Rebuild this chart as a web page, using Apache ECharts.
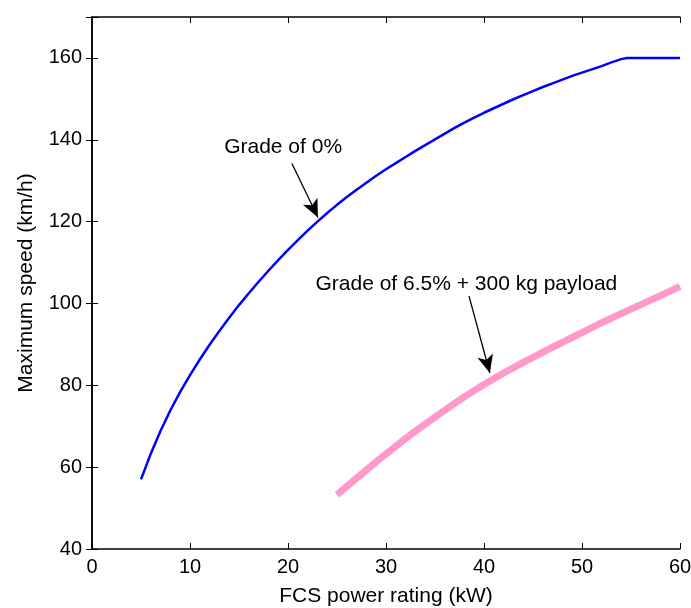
<!DOCTYPE html>
<html>
<head>
<meta charset="utf-8">
<script src="https://cdn.jsdelivr.net/npm/echarts@6/dist/echarts.min.js"></script>
<style>html,body{margin:0;padding:0;background:#fff}#c{width:691px;height:608px}</style>
</head>
<body>
<div id="c"></div>
<script>
const blueX = [5,6,7,8,9,10,11,12,13,14,15,16,17,18,19,20,21,22,23,24,25,26,27,28,29,30,31,32,33,34,35,36,37,38,39,40,41,42,43,44,45,46,47,48,49,50,51,52,53,54,54.6,55,56,57,58,59,60];
const blueY = [57,63.3,68.9,73.9,78.4,82.5,86.3,89.9,93.3,96.5,99.6,102.5,105.3,108,110.6,113.1,115.5,117.8,120,122.1,124.1,126,127.8,129.5,131.2,132.8,134.3,135.8,137.3,138.7,140.1,141.5,142.9,144.2,145.4,146.6,147.7,148.8,149.9,150.9,151.9,152.9,153.8,154.7,155.6,156.4,157.2,158,158.9,159.7,160,160,160,160,160,160,160];
const pinkX = [25,26,27,28,29,30,31,32,33,34,35,36,37,38,39,40,41,42,43,44,45,46,47,48,49,50,51,52,53,54,55,56,57,58,59,60];
const pinkY = [53.2,55.3,57.3,59.3,61.3,63.2,65.1,67,68.8,70.5,72.2,73.9,75.6,77.2,78.7,80.2,81.6,83,84.3,85.6,86.8,88.1,89.3,90.5,91.7,92.9,94.1,95.3,96.4,97.5,98.6,99.7,100.8,101.9,103,104.2];
const xTitle = 'FCS power rating (kW)';
const yTitle = 'Maximum speed (km/h)';
const note1 = 'Grade of 0%';
const note2 = 'Grade of 6.5% + 300 kg payload';
const note1Pos = [19.5, 138.2];
const note2Pos = [38.2, 104.6];
const arrow1 = [[20.4, 134.2], [23.06, 121.0]];
const arrow2 = [[38.47, 101.8], [40.6, 83.0]];

const FONT = 'Liberation Sans, Arial, sans-serif';
const chart = echarts.init(document.getElementById('c'));
const axLine = {show: true, lineStyle: {color: '#000', width: 1.5}};
const ticksIn = {show: true, inside: true, length: 6, lineStyle: {color: '#000', width: 1}};
function pairs(xs, ys){ return xs.map((x,i)=>[x, ys[i]]); }
chart.setOption({
  animation: false,
  textStyle: {fontFamily: FONT},
  grid: {left: 92, right: 11, top: 17, bottom: 59, containLabel: false, outerBoundsMode: 'none'},
  xAxis: [
    {type: 'value', min: 0, max: 60, interval: 10, position: 'bottom',
     name: xTitle, nameLocation: 'middle', nameGap: 37,
     nameTextStyle: {fontSize: 21, color: '#000', fontFamily: FONT},
     axisLine: axLine, axisTick: ticksIn, splitLine: {show: false},
     axisLabel: {fontSize: 20, color: '#000', margin: 8, fontFamily: FONT}},
    {type: 'value', min: 0, max: 60, interval: 10, position: 'top',
     axisLine: axLine, axisTick: ticksIn, splitLine: {show: false},
     axisLabel: {show: false}}
  ],
  yAxis: [
    {type: 'value', min: 40, max: 170, interval: 20, position: 'left',
     name: yTitle, nameLocation: 'middle', nameGap: 55, nameRotate: 90,
     nameTextStyle: {fontSize: 21, color: '#000', fontFamily: FONT},
     axisLine: axLine, axisTick: ticksIn, splitLine: {show: false},
     axisLabel: {fontSize: 20, color: '#000', margin: 10, fontFamily: FONT,
       formatter: v => (v % 20 === 0 && v <= 160) ? String(v) : ''}},
    {type: 'value', min: 40, max: 170, interval: 20, position: 'right',
     axisLine: axLine, axisTick: ticksIn, splitLine: {show: false},
     axisLabel: {show: false}}
  ],
  series: [
    {type: 'line', data: pairs(blueX, blueY), showSymbol: false, smooth: false,
     lineStyle: {color: '#0000ff', width: 2.5}, z: 3,
     markPoint: {symbol: 'circle', symbolSize: 0, silent: true,
       label: {show: true, position: 'inside', formatter: note1, fontSize: 21, color: '#000', fontFamily: FONT},
       data: [{coord: note1Pos}]},
     markLine: {silent: true, symbol: ['none', 'arrow'], symbolSize: [12, 18],
       lineStyle: {color: '#000', width: 1.3, type: 'solid'}, label: {show: false},
       data: [[{coord: arrow1[0]}, {coord: arrow1[1]}]]}
    },
    {type: 'line', data: pairs(pinkX, pinkY), showSymbol: false, smooth: false,
     lineStyle: {color: '#ff99cc', width: 7}, z: 2,
     markPoint: {symbol: 'circle', symbolSize: 0, silent: true,
       label: {show: true, position: 'inside', formatter: note2, fontSize: 21, color: '#000', fontFamily: FONT},
       data: [{coord: note2Pos}]},
     markLine: {silent: true, symbol: ['none', 'arrow'], symbolSize: [12, 18],
       lineStyle: {color: '#000', width: 1.3, type: 'solid'}, label: {show: false},
       data: [[{coord: arrow2[0]}, {coord: arrow2[1]}]]}
    }
  ]
});
</script>
</body>
</html>
